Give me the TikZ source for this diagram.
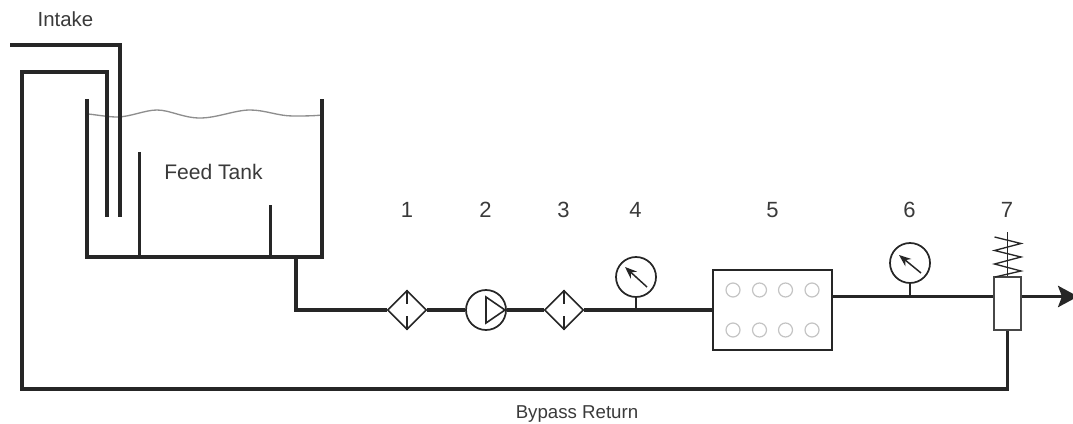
\documentclass[tikz,border=0pt]{standalone}
\usepackage{fontspec}
\setmainfont{Liberation Sans}
\usetikzlibrary{shapes.geometric,arrows.meta,calc}
\definecolor{ink}{HTML}{262626}
\definecolor{txt}{HTML}{3A3A3A}
\definecolor{lightc}{HTML}{C4C4C4}
\definecolor{water}{HTML}{8E8E8E}
\tikzset{
  pipe/.style={draw=ink,line width=2.3pt,line join=miter},
  thinpipe/.style={draw=ink,line width=2.2pt},
  tankwall/.style={draw=ink,line width=2.4pt,line join=miter},
  filterbox/.style={diamond,draw=ink,line width=1.2pt,fill=white,inner sep=0pt,minimum width=29.5pt,minimum height=29.5pt},
  dial/.style={circle,draw=ink,line width=1.3pt,fill=white,inner sep=0pt,minimum size=30pt},
  needle/.style={draw=ink,line width=1.1pt,-{Stealth[length=9pt,width=7pt]}},
  label/.style={text=txt,font=\fontsize{15.3}{15}\selectfont,anchor=base},
  numlabel/.style={text=txt,font=\fontsize{16.5}{16}\selectfont,anchor=base},
  port/.style={circle,draw=lightc,line width=.9pt,inner sep=0pt,minimum size=10.5pt},
  blockbox/.style={draw=ink,line width=1.3pt,fill=white,inner sep=0pt,minimum width=89pt,minimum height=60pt},
  valvebox/.style={draw=ink!85,line width=1.2pt,fill=white,inner sep=0pt,minimum width=20pt,minimum height=40pt},
  x=.75pt,y=-.75pt
}
\begin{document}
\begin{tikzpicture}
\useasboundingbox (0,0) rectangle (1073,424);
% free ends and corners
\coordinate (intakeStart) at (10,45);
\coordinate (intakeCorner) at (120,45);
\coordinate (intakeEnd) at (120,217);
\coordinate (retEnd) at (107,217);
\coordinate (retC1) at (107,72);
\coordinate (retC2) at (22,72);
\coordinate (retC3) at (22,389);
\coordinate (tankOut) at (296,257);
\coordinate (outC) at (296,310);
\coordinate (exit) at (1078,296.5);
\coordinate (tee4) at (636,310);
\coordinate (tee6) at (910,296.5);
% water
\draw[water,line width=1pt] (88,114) .. controls (98,115) and (108,117) .. (117,117)
  .. controls (130,117) and (145,110) .. (157,110)
  .. controls (170,110) and (183,118) .. (200,118)
  .. controls (217,118) and (235,110) .. (250,110)
  .. controls (265,110) and (278,116) .. (293,116)
  .. controls (303,116) and (313,116) .. (322,115);
% tank
\draw[tankwall] (87,99) -- (87,257) -- (322,257) -- (322,99);
\draw[thinpipe] (139.5,152) -- (139.5,257);
\draw[thinpipe] (270.4,205) -- (270.4,257);
% intake and return
\draw[pipe] (intakeStart) -- (intakeCorner) -- (intakeEnd);
% components
\node[filterbox] (f1) at (407,310) {};
\node[dial] (pump) at (486,310) {};
\node[filterbox] (f3) at (564,310) {};
\node[dial] (g4) at (636,277) {};
\node[blockbox] (block) at (772.5,310) {};
\node[dial] (g6) at (910,263) {};
\node[valvebox] (valve) at (1007.5,303.5) {};
% main line
\draw[pipe] (tankOut) -- (outC) -- (f1.west);
\draw[pipe] (f1.east) -- (pump.west);
\draw[pipe] (pump.east) -- (f3.west);
\draw[pipe] (f3.east) -- (block.west);
\draw[pipe] (block.east |- exit) -- (valve.west |- exit);
\draw[pipe,-{Stealth[length=15pt,width=16pt,inset=3pt]}] (valve.east |- exit) -- (exit);
\draw[pipe] (valve.south) -- (valve.south |- retC3) -- (retC3) -- (retC2) -- (retC1) -- (retEnd);
\draw[thinpipe,line width=1.4pt] (g4.south) -- (tee4);
\draw[thinpipe,line width=1.4pt] (g6.south) -- (tee6);
% filter inner marks
\foreach \n in {f1,f3}{
  \draw[ink,line width=.9pt] (\n.north) -- ++(0,14) ($(\n.south)+(0,-14)$) -- (\n.south);
}
% pump triangle
\draw[ink,line width=1.2pt,line join=miter] (486,297) -- (505,310) -- (486,323) -- cycle;
% needles
\draw[needle] (647,287) -- (625,267);
\draw[needle] (921,273) -- (899,255);
% spring
\draw[ink,line width=1pt] (1007.5,232) -- (valve.north);
\draw[ink,line width=1pt] (994.5,237) -- (1021,243.5) -- (994.5,250.5) -- (1021,257) -- (994.5,264) -- (1021,271) -- (995,277);
% ports
\foreach \px/\i in {733/1,759.5/2,785.5/3,812/4}{
  \node[port] (pa\i) at (\px,290) {};
  \node[port] (pb\i) at (\px,330) {};
}
% text
\node[label] (tIntake) at (65.5,27) {Intake};
\node[label,font=\fontsize{15.8}{16}\selectfont] (tFeed) at (213.5,179) {Feed Tank};
\node[numlabel] (t1) at (407,217) {1};
\node[numlabel] (t2) at (485.5,217) {2};
\node[numlabel] (t3) at (563.5,217) {3};
\node[numlabel] (t4) at (635.5,217) {4};
\node[numlabel] (t5) at (772.5,217) {5};
\node[numlabel] (t6) at (909.5,217) {6};
\node[numlabel] (t7) at (1007,217) {7};
\node[label,font=\fontsize{14}{14}\selectfont] (tBypass) at (577,418) {Bypass Return};
\end{tikzpicture}
\end{document}
